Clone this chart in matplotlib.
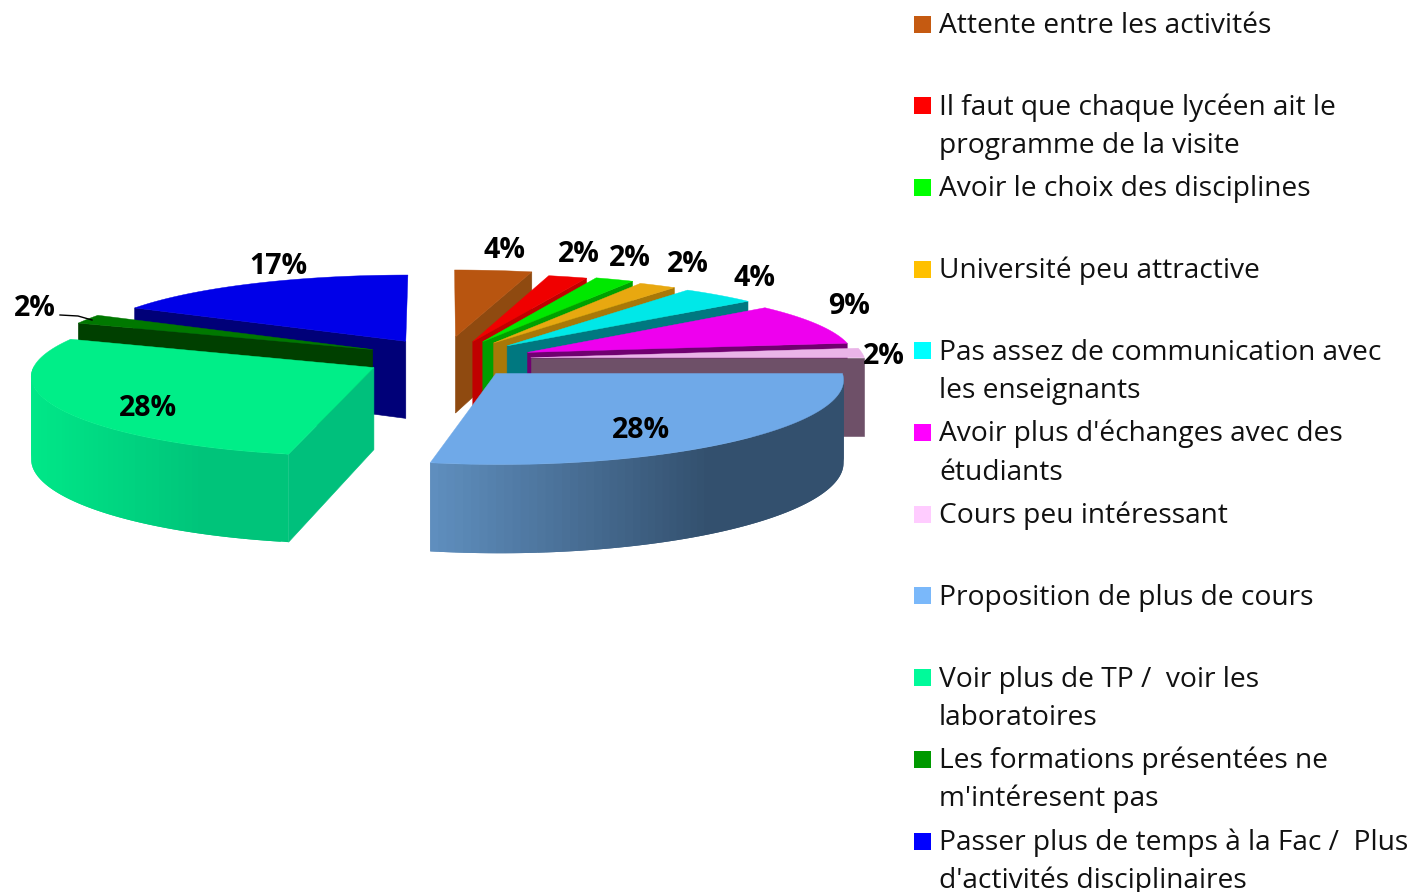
import numpy as np
import matplotlib
matplotlib.use('Agg')
import matplotlib.pyplot as plt
from matplotlib.colors import to_rgb

labels = ['Attente entre les activités',
          'Il faut que chaque lycéen ait le\nprogramme de la visite',
          'Avoir le choix des disciplines',
          'Université peu attractive',
          'Pas assez de communication avec\nles enseignants',
          "Avoir plus d'échanges avec des\nétudiants",
          'Cours peu intéressant',
          'Proposition de plus de cours',
          'Voir plus de TP /  voir les\nlaboratoires',
          'Les formations présentées ne\nm\'intéresent pas',
          "Passer plus de temps à la Fac /  Plus\nd'activités disciplinaires"]
values = [4, 2, 2, 2, 4, 9, 2, 28, 28, 2, 17]

# styles
legend_colors = ['#c55a11', '#ff0000', '#00ff00', '#ffc000', '#00ffff', '#ff00ff',
                 '#ffccff', '#7ab8fa', '#00fa9a', '#009900', '#0000ff']
top_colors = ['#b85510', '#f00000', '#00e800', '#e8a810', '#00e8e8', '#ee00ee',
              '#eab4e8', '#6fa9e8', '#00ee88', '#007800', '#0000e8']
cut_colors = ['#8f4a10', '#c00000', '#00a000', '#a87808', '#007880', '#700070',
              '#6e5068', '#33506e', '#00c07c', '#004000', '#000078']
rim_left = ['#8f4a10', '#c00000', '#00a000', '#a87808', '#007880', '#700070',
            '#6e5068', '#6090c0', '#00e888', '#004000', '#000078']
rim_right = ['#8f4a10', '#c00000', '#00a000', '#a87808', '#007880', '#700070',
             '#6e5068', '#33506e', '#00c47a', '#004000', '#000078']
explode = [118, 105, 100, 100, 98, 95, 90, 85, 76, 76, 70]
radii = [338, 340, 340, 334, 334, 328, 334, 342, 338, 328, 324]
lift = [-2, -1, -3, -3, -3, -4, -6, -7, -6, -8, -10]
skew = [0, 0, 0, 0, 0, 0, 0, 0, 0.14, 0, 0]
heights = [78, 81.5, 81.5, 81.5, 81.5, 81.5, 78, 81.5, 81.5, 81.5, 78]
# painter's order, back to front
draw_order = [0, 1, 2, 3, 4, 5, 6, 10, 9, 8, 7]
pct_pos = [(505, 250), (579, 255), (630, 259), (688, 264), (754, 278), (849, 307),
           (884, 357), (641, 430), (148, 408), (35, 309), (278, 266)]

cx, cy = 441, 365
tilt = 0.231
focal_x = 5000
focal_y = 3500


def project(X, Y):
    s = focal_x / (focal_x + Y)
    return cx + X * s, cy - Y * tilt * focal_y / (focal_y + Y), s


def drawSlice(ax, i, start, end):
    mid = (start + end) / 2
    off_x = explode[i] * np.sin(mid)
    off_y = explode[i] * np.cos(mid)
    theta = np.linspace(start, end, 80)
    rim_x, rim_y, rim_s = project(off_x + radii[i] * np.sin(theta), off_y + radii[i] * np.cos(theta))
    ax_x, ax_y, ax_s = project(off_x, off_y)
    rim_x = rim_x - skew[i] * (rim_y - ax_y)
    rim_y = rim_y + lift[i]
    ax_y = ax_y + lift[i]
    rim_h = heights[i] * rim_s
    ax_h = heights[i] * ax_s

    # cut faces which look towards the viewer
    for t, k in ((start, 0), (end, -1)):
        facing = np.sin(t) < -1e-6 if k == 0 else np.sin(t) > 1e-6
        if facing:
            ax.fill([ax_x, rim_x[k], rim_x[k], ax_x],
                    [ax_y, rim_y[k], rim_y[k] + rim_h[k], ax_y + ax_h],
                    color=cut_colors[i], lw=0.4, zorder=2)

    # outer rim, shaded from left to right, strips overlap so no seams show
    c0, c1 = np.array(to_rgb(rim_left[i])), np.array(to_rgb(rim_right[i]))
    x0, x1 = rim_x.min(), rim_x.max()
    for j in range(len(theta) - 1):
        if np.cos((theta[j] + theta[j + 1]) / 2) >= 0:
            continue
        t = min(1, (rim_x[j] - x0) / (0.68 * (x1 - x0) + 1e-9))
        j2 = min(j + 2, len(theta) - 1)
        ax.fill([rim_x[j], rim_x[j2], rim_x[j2], rim_x[j]],
                [rim_y[j], rim_y[j2], rim_y[j2] + rim_h[j2], rim_y[j] + rim_h[j]],
                color=tuple(c0 + (c1 - c0) * t), lw=0, zorder=2)

    # top face
    ax.fill(np.r_[ax_x, rim_x], np.r_[ax_y, rim_y], color=top_colors[i], lw=0.3, zorder=2)


fig = plt.figure(figsize=(14.12, 8.92), dpi=100)
ax = fig.add_axes([0, 0, 1, 1])
ax.set_xlim(0, 1412)
ax.set_ylim(892, 0)
ax.axis('off')

edges = np.cumsum([0] + values) / sum(values) * 2 * np.pi
for i in draw_order:
    drawSlice(ax, i, edges[i], edges[i + 1])

for i, v in enumerate(values):
    ax.text(pct_pos[i][0], pct_pos[i][1], str(v) + '%', family='Open Sans', weight='bold',
            fontsize=20.5, ha='center', va='center', color='black', zorder=5)
ax.plot([60, 78, 92], [315, 316, 320], color='black', lw=1, zorder=4)

# legend
for i, label in enumerate(labels):
    yc = 24 + 81.7 * i
    ax.fill([914, 931, 931, 914], [yc - 8.5, yc - 8.5, yc + 8.5, yc + 8.5],
            color=legend_colors[i], lw=0, zorder=3)
    for n, line in enumerate(label.split('\n')):
        ax.text(939, yc + 9 + 38 * n, line, family='Open Sans', fontsize=20.25,
                ha='left', va='baseline', color='#111111', zorder=5)

fig.savefig('out.png', dpi=100)
